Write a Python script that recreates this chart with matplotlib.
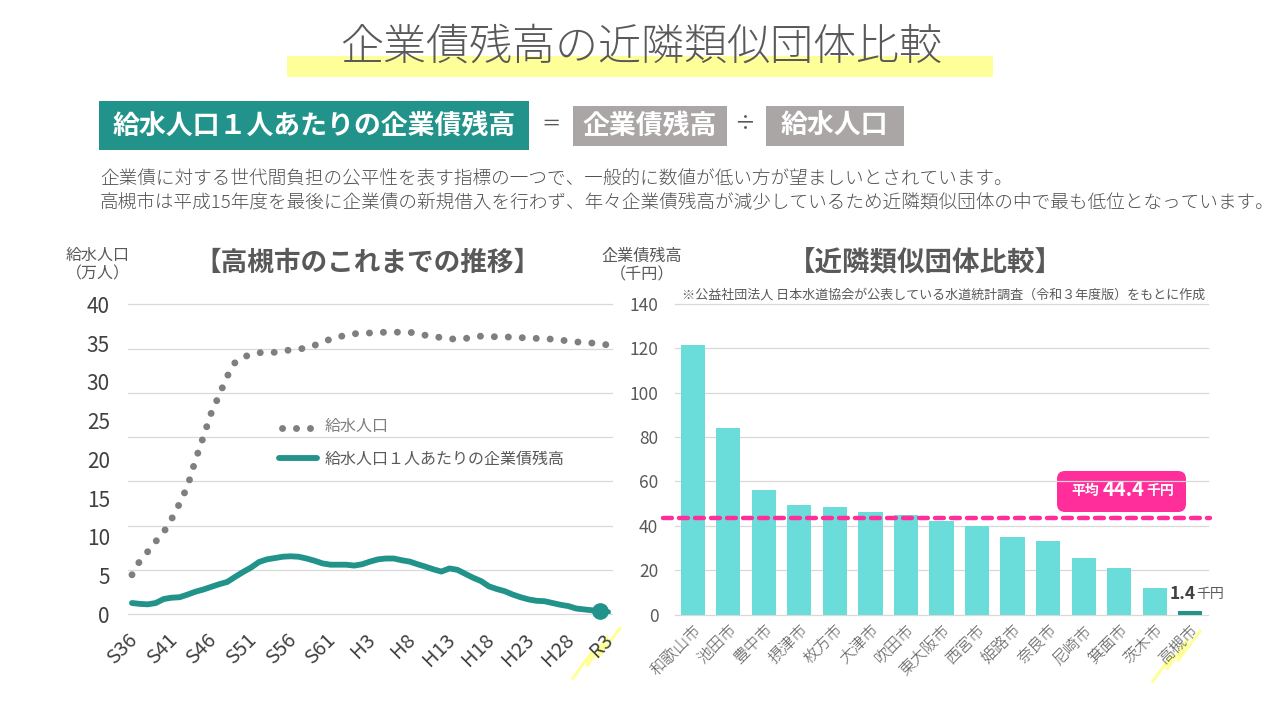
import matplotlib
matplotlib.use('Agg')
import matplotlib.pyplot as plt
from matplotlib.patches import Rectangle, FancyBboxPatch
from matplotlib.transforms import ScaledTranslation

plt.rcParams['font.family'] = ['Noto Sans CJK JP', 'DejaVu Sans']

# 昭和36年度〜令和3年度 (61 years)
years = list(range(61))
year_ticks = [0, 5, 10, 15, 20, 25, 30, 35, 40, 45, 50, 55, 60]
year_labels = ['S36', 'S41', 'S46', 'S51', 'S56', 'S61', 'H3', 'H8', 'H13', 'H18', 'H23', 'H28', 'R3']

# 給水人口 (万人)
population = [5.1, 6.9, 8.1, 9.4, 10.6, 12.3, 14.3, 16.5, 19.9, 22.9,
              26.0, 28.3, 30.7, 32.5, 33.2, 33.5, 33.75, 33.8, 33.8, 34.0,
              34.1, 34.2, 34.4, 34.7, 35.1, 35.5, 35.8, 36.0, 36.2, 36.25,
              36.3, 36.35, 36.4, 36.4, 36.4, 36.4, 36.2, 36.0, 35.85, 35.7,
              35.55, 35.5, 35.6, 35.7, 35.9, 35.85, 35.8, 35.8, 35.75, 35.7,
              35.65, 35.6, 35.55, 35.5, 35.4, 35.25, 35.15, 35.05, 35.0, 34.9,
              34.75]

# 給水人口1人あたりの企業債残高 (千円)
debt_per_person = [5.1, 4.7, 4.5, 5.1, 6.9, 7.5, 7.7, 8.9, 10.2, 11.2,
                   12.4, 13.6, 14.6, 16.9, 19.1, 21.1, 23.6, 24.8, 25.4, 26.0,
                   26.2, 26.0, 25.2, 24.2, 23.0, 22.4, 22.4, 22.4, 22.0, 22.6,
                   23.8, 24.8, 25.2, 25.2, 24.4, 23.8, 22.6, 21.5, 20.3, 19.3,
                   20.7, 20.1, 18.3, 16.5, 15.0, 12.6, 11.4, 10.4, 8.9, 7.7,
                   6.7, 6.1, 5.9, 5.1, 4.3, 3.7, 2.6, 2.2, 1.8, 1.4,
                   1.0]
highlight_year = 59

cities = ['和歌山市', '池田市', '豊中市', '摂津市', '枚方市', '大津市', '吹田市', '東大阪市',
          '西宮市', '姫路市', '奈良市', '尼崎市', '箕面市', '茨木市', '高槻市']
city_debt = [121.5, 84, 56, 49.5, 48.5, 46, 45, 42, 40, 35, 33, 25.5, 21, 12, 1.4]
average_line = 43.7

pop_ticks = [0, 5, 10, 15, 20, 25, 30, 35, 40]
debt_ticks = [0, 20, 40, 60, 80, 100, 120, 140]

TEAL = '#21938A'
AQUA = '#6ADDDB'
DOT_GRAY = '#7F7F7F'
TEXT = '#595959'
PINK = '#FF2E9A'
YELLOW = '#FFFF99'
GRID = '#D9D9D9'
BOX_GRAY = '#A9A6A5'
W, H = 1280, 720


def axes_px(x0, y0, x1, y1):
    return [x0 / W, 1 - y1 / H, (x1 - x0) / W, (y1 - y0) / H]


fig = plt.figure(figsize=(12.8, 7.2), dpi=100, facecolor='white')

# 全体を覆うピクセル座標の下地 (見出し・帯・マーカー用)
bg = fig.add_axes([0, 0, 1, 1], zorder=0)
bg.set_xlim(0, W)
bg.set_ylim(H, 0)
bg.axis('off')

bg.add_patch(Rectangle((287, 56), 706, 21, color=YELLOW, lw=0))
bg.text(641, 47, '企業債残高の近隣類似団体比較', fontsize=31, fontweight='light', color=TEXT, ha='center', va='center')

bg.add_patch(Rectangle((99, 101), 430, 49, color=TEAL, lw=0))
bg.text(314, 126, '給水人口１人あたりの企業債残高', fontsize=19.4, fontweight='bold', color='white', ha='center', va='center')
bg.text(551, 124, '＝', fontsize=14, color=TEXT, ha='center', va='center')
bg.add_patch(Rectangle((573, 106), 154, 40, color=BOX_GRAY, lw=0))
bg.text(650, 126, '企業債残高', fontsize=19.4, fontweight='bold', color='white', ha='center', va='center')
bg.text(745, 124, '÷', fontsize=15, color=TEXT, ha='center', va='center')
bg.add_patch(Rectangle((766, 106), 138, 40, color=BOX_GRAY, lw=0))
bg.text(834, 126, '給水人口', fontsize=19.4, fontweight='bold', color='white', ha='center', va='center')

bg.text(100, 179, '企業債に対する世代間負担の公平性を表す指標の一つで、一般的に数値が低い方が望ましいとされています。',
        fontsize=13.4, fontweight='light', color='#505050', va='center')
bg.text(100, 202, '高槻市は平成15年度を最後に企業債の新規借入を行わず、年々企業債残高が減少しているため近隣類似団体の中で最も低位となっています。',
        fontsize=13.4, fontweight='light', color='#505050', va='center')

bg.text(367, 263, '【高槻市のこれまでの推移】', fontsize=19.2, fontweight='bold', color=TEXT, ha='center', va='center')
bg.text(925, 263, '【近隣類似団体比較】', fontsize=19.8, fontweight='bold', color=TEXT, ha='center', va='center')
bg.text(98, 255, '給水人口', fontsize=11.5, color=TEXT, ha='center', va='center')
bg.text(98, 274, '（万人）', fontsize=11.5, color=TEXT, ha='center', va='center')
bg.text(642, 256, '企業債残高', fontsize=11.6, color=TEXT, ha='center', va='center')
bg.text(642, 275, '（千円）', fontsize=11.6, color=TEXT, ha='center', va='center')
bg.text(682, 295, '※公益社団法人 日本水道協会が公表している水道統計調査（令和３年度版）をもとに作成',
        fontsize=9.4, color=TEXT, va='center')

# R3 と 高槻市のマーカー
for dx, dy in [(0, 0), (580, 3)]:
    sx = [572.7, 592, 586.7, 607.7, 597.3, 620]
    sy = [678.3, 652, 666.7, 636, 658.3, 628.3]
    bg.plot([x + dx for x in sx], [y + dy for y in sy], color=YELLOW, lw=2.2, solid_joinstyle='miter')

# 左: 推移 (グリッドは企業債残高側の目盛)
ax1 = fig.add_axes(axes_px(128, 304.3, 612, 614.3), zorder=1)
ax1.patch.set_visible(False)
ax1.set_xlim(-0.5, 60.5)
ax1.set_ylim(0, 140)
ax1.set_yticks(debt_ticks)
ax1.grid(axis='y', color=GRID, lw=0.9, clip_on=False)
ax1.set_axisbelow(True)
ax1.tick_params(axis='y', length=0, labelleft=False)
ax1.set_xticks(year_ticks)
ax1.set_xticklabels(year_labels, rotation=45, ha='right', rotation_mode='anchor', fontsize=14.5, color='#404040')
ax1.tick_params(axis='x', length=0, pad=11)
shift_left = ScaledTranslation(-5 / 100, 0, fig.dpi_scale_trans)
for lab in ax1.get_xticklabels():
    lab.set_transform(lab.get_transform() + shift_left)
for s in ax1.spines.values():
    s.set_visible(False)

ax1.plot(years, debt_per_person, color=TEAL, lw=4.2, solid_capstyle='round', solid_joinstyle='round', zorder=3)
ax1.plot(years[highlight_year], debt_per_person[highlight_year], 'o', color=TEAL, ms=11, zorder=4, clip_on=False)

ax1b = ax1.twinx()
ax1b.patch.set_visible(False)
ax1b.set_ylim(0, 40)
ax1b.set_yticks(pop_ticks)
ax1b.yaxis.tick_left()
ax1b.tick_params(axis='y', length=0, pad=13, labelsize=15, labelcolor='#404040')
for s in ax1b.spines.values():
    s.set_visible(False)
dot_lw = 5.0
ax1b.plot(years, population, color=DOT_GRAY, lw=dot_lw, dash_capstyle='round',
          linestyle=(0, (0.01, 13.9 * 0.72 / dot_lw)), clip_on=False)

# 左の凡例
bg.plot([282, 311], [428, 428], color=DOT_GRAY, lw=dot_lw, dash_capstyle='round',
        linestyle=(0, (0.01, 13.9 * 0.72 / dot_lw)))
bg.text(325, 426, '給水人口', fontsize=11.5, color=DOT_GRAY, va='center')
bg.plot([279, 317], [458, 458], color=TEAL, lw=4.2, solid_capstyle='round')
bg.text(325, 459, '給水人口１人あたりの企業債残高', fontsize=11.5, color=TEXT, va='center')

# 右: 類似団体比較
ax2 = fig.add_axes(axes_px(675, 304, 1208, 614.5), zorder=1)
ax2.patch.set_visible(False)
bar_colors = [AQUA] * (len(cities) - 1) + [TEAL]
ax2.bar(cities, city_debt, width=0.68, color=bar_colors, zorder=2)
ax2.set_xlim(-0.5, len(cities) - 0.5)
ax2.set_ylim(0, 140)
ax2.set_yticks(debt_ticks)
ax2.grid(axis='y', color=GRID, lw=0.9, clip_on=False)
ax2.set_axisbelow(True)
ax2.tick_params(axis='y', length=0, pad=12, labelsize=12.5, labelcolor=TEXT)
ax2.tick_params(axis='x', length=0, pad=5)
ax2.set_xticks(range(len(cities)))
ax2.set_xticklabels(cities, rotation=45, ha='right', rotation_mode='anchor', fontsize=11.5, fontweight='light', color=TEXT)
for s in ax2.spines.values():
    s.set_visible(False)
ax2.axhline(average_line, xmin=-0.0225, xmax=1.0035, color=PINK, lw=3.2, ls=(0, (2.0, 1.6)),
            dash_capstyle='round', clip_on=False, zorder=3)

bg.add_patch(FancyBboxPatch((1065, 479), 113, 25, boxstyle='round,pad=8,rounding_size=8', color=PINK, lw=0))
bg.text(1085, 491, '平均', fontsize=10, fontweight='bold', color='white', ha='center', va='center')
bg.text(1124, 490, '44.4', fontsize=14.5, fontweight='bold', color='white', ha='center', va='center')
bg.text(1160, 491, '千円', fontsize=10, fontweight='bold', color='white', ha='center', va='center')
bg.text(1183, 594, '1.4', fontsize=12.5, fontweight='bold', color='#404040', ha='center', va='center')
bg.text(1210, 594, '千円', fontsize=10, color=TEXT, ha='center', va='center')

fig.savefig('out.png', dpi=100, facecolor='white')
